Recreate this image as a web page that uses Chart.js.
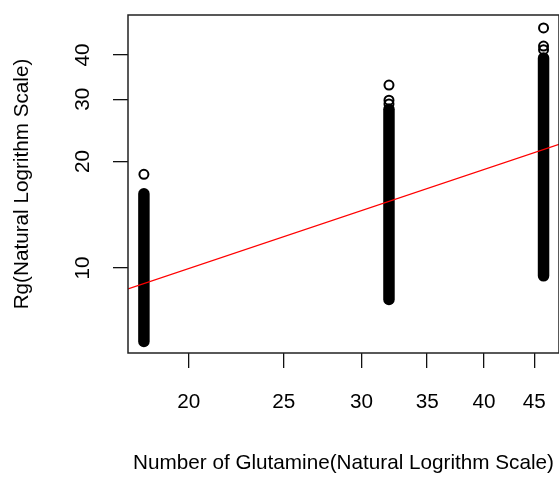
<!DOCTYPE html>
<html>
<head>
<meta charset="utf-8">
<script src="https://cdn.jsdelivr.net/npm/chart.js@4/dist/chart.umd.min.js"></script>
<style>
  html, body { margin: 0; padding: 0; overflow: hidden; background: #fff; }
  canvas { display: block; }
</style>
</head>
<body>
<canvas id="rgChart" width="559" height="479"></canvas>
<script>
// glutamine counts for the three groups and the Rg span each dense column covers
const glnCounts = [18, 32, 46];
const rgLow = [6.2, 8.15, 9.5];
const rgHigh = [16.2, 28.1, 39.2];

// isolated points above the dense columns
const outlierX = [18, 32, 32, 32, 46, 46, 46];
const outlierY = [18.4, 32.9, 29.8, 29.1, 47.7, 42.4, 41.4];

// fitted line (log-log), read at the plot edges
const fitX = [17.34, 47.7];
const fitY = [8.73, 22.35];

const xTicks = [20, 25, 30, 35, 40, 45];
const yTicks = [10, 20, 30, 40];

const font = { family: "'Liberation Sans', Arial, sans-serif", size: 20.7 };
// tall line height pushes the x labels down without using tick padding
const xTickFont = { family: font.family, size: 20.7, lineHeight: 3.33 };

const datasets = [];
datasets.push({
    label: 'fit',
    data: fitX.map((x, i) => ({ x: x, y: fitY[i] })),
    showLine: true,
    borderColor: '#ff0000',
    borderWidth: 1.3,
    pointRadius: 0,
    order: 0
});
glnCounts.forEach((g, i) => {
    datasets.push({
        label: 'gln ' + g,
        data: [{ x: g, y: rgLow[i] }, { x: g, y: rgHigh[i] }],
        showLine: true,
        borderColor: '#000',
        borderWidth: 11.5,
        borderCapStyle: 'round',
        pointRadius: 0,
        order: 1
    });
});
datasets.push({
    label: 'outliers',
    data: outlierX.map((x, i) => ({ x: x, y: outlierY[i] })),
    pointStyle: 'circle',
    pointRadius: 4.5,
    pointBorderWidth: 2,
    pointBorderColor: '#000',
    pointBackgroundColor: 'rgba(0,0,0,0)',
    order: 1
});

// R style box around the plot region (right side falls just off the canvas)
const boxPlugin = {
    id: 'box',
    afterDraw(chart) {
        const a = chart.chartArea;
        const ctx = chart.ctx;
        ctx.save();
        ctx.strokeStyle = '#222';
        ctx.lineWidth = 1.5;
        ctx.strokeRect(a.left, a.top, a.right - a.left, a.bottom - a.top);
        ctx.restore();
    }
};

function noPad(s) {
    s.paddingTop = 0;
    s.paddingBottom = 0;
    s.paddingLeft = 0;
    s.paddingRight = 0;
}

new Chart(document.getElementById('rgChart'), {
    type: 'scatter',
    data: { datasets: datasets },
    options: {
        responsive: false,
        animation: false,
        // autoPadding would keep room for the thick column strokes on the right
        layout: { autoPadding: false, padding: { left: 0, top: 15, right: -1, bottom: 0 } },
        plugins: { legend: { display: false }, tooltip: { enabled: false } },
        scales: {
            x: {
                type: 'logarithmic',
                min: 17.34,
                max: 47.7,
                bounds: 'data',
                afterFit: s => { s.height = 126; noPad(s); },
                afterBuildTicks: s => { s.ticks = xTicks.map(v => ({ value: v })); },
                grid: { drawOnChartArea: false, drawTicks: true, tickLength: 15, color: '#111', lineWidth: 1.3 },
                border: { display: false },
                ticks: {
                    autoSkip: false,
                    maxRotation: 0,
                    padding: 0,
                    color: '#000',
                    font: xTickFont,
                    callback: v => String(v)
                },
                title: {
                    display: true,
                    text: 'Number of Glutamine(Natural Logrithm Scale)',
                    color: '#000',
                    font: font,
                    padding: { top: 0, bottom: 3 }
                }
            },
            y: {
                type: 'logarithmic',
                min: 5.75,
                max: 51.9,
                bounds: 'data',
                afterFit: s => { s.width = 128; noPad(s); },
                afterBuildTicks: s => { s.ticks = yTicks.map(v => ({ value: v })); },
                grid: { drawOnChartArea: false, drawTicks: true, tickLength: 15, color: '#111', lineWidth: 1.3 },
                border: { display: false },
                ticks: {
                    autoSkip: false,
                    minRotation: 90,
                    maxRotation: 90,
                    crossAlign: 'center',
                    padding: 18.5,
                    color: '#000',
                    font: font,
                    callback: v => String(v)
                },
                title: {
                    display: true,
                    text: 'Rg(Natural Logrithm Scale)',
                    color: '#000',
                    font: font,
                    padding: { top: 10, bottom: 0 }
                }
            }
        }
    },
    plugins: [boxPlugin]
});
</script>
</body>
</html>
